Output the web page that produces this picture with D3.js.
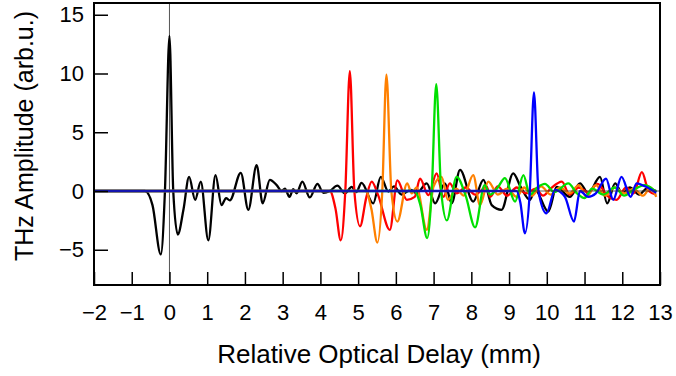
<!DOCTYPE html>
<html>
<head>
<meta charset="utf-8">
<script src="https://cdn.jsdelivr.net/npm/d3@7"></script>
<style>
  body { margin: 0; background: #fff; }
  svg { display: block; font-family: "Liberation Sans", Arial, sans-serif; }
</style>
</head>
<body>
<script>
// key points of each THz trace (delay in mm, amplitude in arb.u.)
const blackX = [-2, -0.65, -0.45, -0.23, -0.12, 0.0, 0.1, 0.22, 0.37, 0.52, 0.68, 0.83, 1.03, 1.22, 1.38, 1.5, 1.6, 1.89, 2.09, 2.31, 2.47, 2.66, 2.84, 2.97, 3.06, 3.18, 3.28, 3.37, 3.52, 3.72, 3.92, 4.08, 4.25, 4.45, 4.65, 4.83, 4.95, 5.09, 5.4, 5.6, 5.8, 5.95, 6.15, 6.4, 6.55, 6.82, 7.04, 7.3, 7.48, 7.7, 8.05, 8.32, 8.54, 8.8, 9.11, 9.3, 9.55, 9.69, 10.04, 10.26, 10.61, 10.88, 11.1, 11.41, 11.6, 11.81, 12.0, 12.2, 12.45, 12.65, 12.9];
const blackY = [0, 0, -1.2, -5.4, 0, 13.2, 0, -3.7, -1.6, 1.2, -0.75, 0.8, -4.2, 1.35, -1.2, -0.6, -0.8, 1.55, -1.6, 2.2, -1.05, 0.95, 0.5, 0.0, 0.2, -0.5, 0.15, -0.2, 0.8, -0.55, 0.6, -0.15, 0.0, 0.45, -0.2, 0.35, -0.1, 0.7, -1.05, 1.2, -0.05, 0.4, -0.3, 0.1, -0.2, 0.65, -1.05, 0.65, -1.05, 1.8, -0.9, 0.95, -1.2, -1.6, 1.5, 0.4, -0.75, 0.1, -1.75, 0.35, -0.5, 0.65, -0.2, 1.2, -1.05, 0.65, -0.2, 0.3, -0.3, 0.2, 0.0];

const redX = [-2, 4.25, 4.4, 4.54, 4.66, 4.78, 4.9, 5.05, 5.22, 5.36, 5.53, 5.84, 6.04, 6.29, 6.5, 6.64, 6.86, 7.08, 7.26, 7.43, 7.61, 7.85, 8.1, 8.41, 8.5, 8.7, 8.95, 9.2, 9.45, 9.7, 9.9, 10.1, 10.4, 10.6, 10.85, 11.1, 11.35, 11.6, 11.85, 12.1, 12.3, 12.52, 12.7, 12.9];
const redY = [0, 0, -1.5, -4.2, 0, 10.2, 0, -3.0, -0.5, 0.8, -0.35, -3.3, 0.9, -0.75, -0.5, 1.05, -0.35, 1.5, -0.5, 0.65, -0.2, 0.3, -0.3, 0.35, -0.5, 0.4, -0.4, 0.3, -0.2, 0.2, -0.4, 0.2, 0.8, -0.3, 0.3, -0.1, 0.6, -0.4, -0.75, 0.3, -0.2, 1.6, 0.0, -0.3];

const orangeX = [-2, 5.2, 5.35, 5.51, 5.64, 5.75, 5.88, 6.04, 6.3, 6.42, 6.55, 6.82, 7.0, 7.21, 7.38, 7.6, 7.8, 8.05, 8.23, 8.45, 8.7, 8.95, 9.2, 9.4, 9.6, 9.85, 10.1, 10.35, 10.6, 10.85, 11.05, 11.3, 11.55, 11.8, 12.05, 12.3, 12.55, 12.75, 12.9];
const orangeY = [0, 0, -1.5, -4.4, 0, 9.9, 0, -2.6, 0.65, -0.2, 0.3, -3.3, 0.4, 1.2, -0.75, 0.2, -0.4, 1.35, -1.2, 0.8, -0.3, 0.2, -0.5, 0.3, -0.4, 0.4, -0.3, 0.3, -0.2, 0.5, -0.5, 0.5, -0.4, 0.3, -0.2, 0.2, -0.4, 0.3, -0.5];

const greenX = [-2, 6.5, 6.65, 6.83, 6.95, 7.07, 7.2, 7.35, 7.61, 7.85, 8.1, 8.35, 8.5, 8.7, 8.89, 9.16, 9.38, 9.55, 9.75, 9.95, 10.2, 10.57, 10.8, 11.0, 11.2, 11.5, 11.8, 12.05, 12.3, 12.6, 12.9];
const greenY = [0, 0, -1.2, -4.0, 0, 9.1, 0, -2.5, 1.2, -0.4, -3.1, 0.5, -0.3, 0.3, 1.1, -0.9, 1.35, -0.3, 0.3, 0.6, -0.1, 0.65, -0.2, -0.6, 0.2, -0.3, 0.3, -0.4, 0.1, 0.5, -0.1];

const blueX = [-2, 9.2, 9.3, 9.42, 9.55, 9.66, 9.78, 9.99, 10.22, 10.48, 10.72, 10.88, 11.1, 11.3, 11.57, 11.76, 11.98, 12.22, 12.38, 12.6, 12.9];
const blueY = [0, 0, -1.0, -3.6, 0, 8.4, 0, -1.9, 0.1, -0.5, -2.6, 0.0, -0.5, -0.2, 1.05, -0.75, 1.2, -0.5, 0.65, 0.4, -0.15];

const seriesColors = ['#000000', '#ff0000', '#ff8000', '#00e000', '#0000ff'];
const xTicks = d3.range(-2, 14);
const yTicks = [-5, 0, 5, 10, 15];

const w = 676, h = 376;
const margin = { top: 3, right: 16, bottom: 91, left: 94 };

const series = [
  [blackX, blackY], [redX, redY], [orangeX, orangeY], [greenX, greenY], [blueX, blueY]
].map(([xs, ys]) => xs.map((x, i) => [x, ys[i]]));

const x = d3.scaleLinear().domain([-2, 13]).range([margin.left, w - margin.right]);
const y = d3.scaleLinear().domain([-8, 16]).range([h - margin.bottom, margin.top]);

const svg = d3.select('body').append('svg')
  .attr('width', w)
  .attr('height', h);

svg.append('clipPath').attr('id', 'clip')
  .append('rect')
  .attr('x', margin.left).attr('y', margin.top)
  .attr('width', w - margin.left - margin.right)
  .attr('height', h - margin.top - margin.bottom);

// thin marker at zero delay
svg.append('line')
  .attr('x1', x(0)).attr('x2', x(0))
  .attr('y1', margin.top).attr('y2', h - margin.bottom)
  .attr('stroke', '#555')
  .attr('stroke-width', 1);

const line = d3.line()
  .x(d => x(d[0]))
  .y(d => y(d[1]))
  .curve(d3.curveMonotoneX);

svg.append('g')
  .attr('clip-path', 'url(#clip)')
  .selectAll('path')
  .data(series)
  .enter()
  .append('path')
  .attr('d', line)
  .attr('fill', 'none')
  .attr('stroke', (_, i) => seriesColors[i])
  .attr('stroke-width', 2.3)
  .attr('stroke-linejoin', 'round');

svg.append('line')
  .attr('x1', margin.left).attr('x2', w - margin.right)
  .attr('y1', y(0)).attr('y2', y(0))
  .attr('stroke', '#333')
  .attr('stroke-width', 0.8);

const xAxis = d3.axisBottom(x)
  .tickValues(xTicks)
  .tickSizeInner(-13)
  .tickSizeOuter(0)
  .tickPadding(19);

const yAxis = d3.axisLeft(y)
  .tickValues(yTicks)
  .tickSizeInner(-14)
  .tickSizeOuter(0)
  .tickPadding(10);

const gx = svg.append('g')
  .attr('transform', `translate(0, ${h - margin.bottom})`)
  .call(xAxis);

const gy = svg.append('g')
  .attr('transform', `translate(${margin.left}, 0)`)
  .call(yAxis);

[gx, gy].forEach(g => {
  g.select('.domain').remove();
  g.selectAll('line').attr('stroke', '#000').attr('stroke-width', 1.5);
  g.selectAll('text')
    .attr('font-size', '22px')
    .attr('fill', '#000')
    .attr('font-family', '"Liberation Sans", Arial, sans-serif');
});

svg.append('rect')
  .attr('x', margin.left).attr('y', margin.top)
  .attr('width', w - margin.left - margin.right)
  .attr('height', h - margin.top - margin.bottom)
  .attr('fill', 'none')
  .attr('stroke', '#000')
  .attr('stroke-width', 2);

svg.append('text')
  .attr('x', 379)
  .attr('y', 363)
  .attr('text-anchor', 'middle')
  .attr('font-size', '26px')
  .text('Relative Optical Delay (mm)');

svg.append('text')
  .attr('transform', 'translate(33, 136) rotate(-90)')
  .attr('text-anchor', 'middle')
  .attr('font-size', '25px')
  .text('THz Amplitude (arb.u.)');
</script>
</body>
</html>
